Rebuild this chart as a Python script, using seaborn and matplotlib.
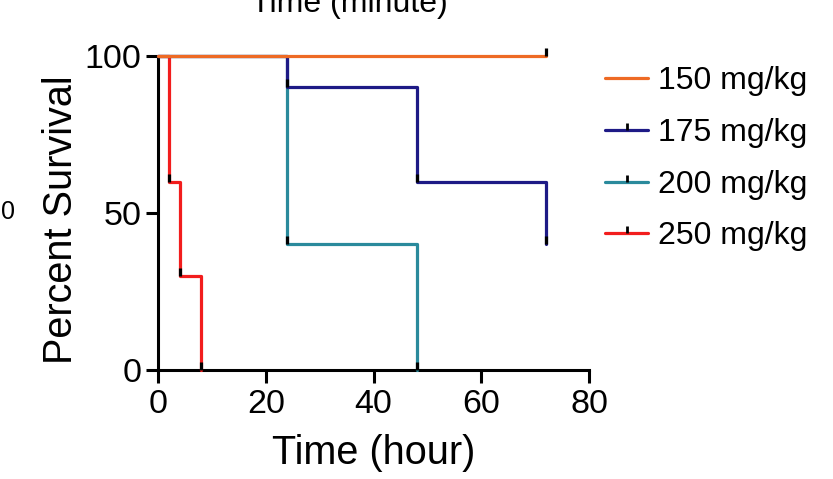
import matplotlib.pyplot as plt
from matplotlib.lines import Line2D
import pandas as pd
import seaborn as sns

# Survival data (Kaplan-Meier steps) per dose
doses = ['150 mg/kg', '175 mg/kg', '200 mg/kg', '250 mg/kg']
time_150 = [0, 72]
surv_150 = [100, 100]
time_175 = [0, 24, 48, 72]
surv_175 = [100, 90, 60, 40]
time_200 = [0, 24, 48]
surv_200 = [100, 40, 0]
time_250 = [0, 2, 4, 8]
surv_250 = [100, 60, 30, 0]

colors = ['#EE6A24', '#1E1A86', '#2A8A9C', '#F21D1D']

times = [time_150, time_175, time_200, time_250]
survs = [surv_150, surv_175, surv_200, surv_250]

rows = []
for dose, t, s in zip(doses, times, survs):
    for ti, si in zip(t, s):
        rows.append({'Time': ti, 'Survival': si, 'Dose': dose})
data = pd.DataFrame(rows)

sns.set_style("ticks")
plt.rcParams['font.family'] = ['Liberation Sans', 'DejaVu Sans']
plt.rcParams['text.color'] = 'black'
plt.rcParams['axes.labelcolor'] = 'black'
plt.rcParams['xtick.color'] = 'black'
plt.rcParams['ytick.color'] = 'black'

fig = plt.figure(figsize=(8.33, 4.79), dpi=100)
ax = fig.add_axes([0.1897, 0.2276, 0.5174, 0.6555])

# draw the highest dose first so the lower doses sit on top (as in Prism)
sns.lineplot(data=data, x='Time', y='Survival', hue='Dose',
             hue_order=doses[::-1], palette=dict(zip(doses, colors)),
             drawstyle='steps-post', estimator=None, sort=False, legend=False,
             linewidth=2.3, ax=ax, clip_on=False, zorder=3)

# small black tick marks at each step (upward stub)
stub = [(0, 0), (0, 1)]
for i, (t, s) in enumerate(zip(times, survs)):
    if i == 0:
        mt, ms = t[-1:], s[-1:]
    else:
        mt, ms = t[1:], s[1:]
    ax.plot(mt, ms, linestyle='none', marker=stub, markersize=12,
            markeredgewidth=2.3, color='black', clip_on=False, zorder=4)

ax.set_xlim(0, 80)
ax.set_ylim(0, 100)
ax.set_xticks([0, 20, 40, 60, 80])
ax.set_yticks([0, 50, 100])
ax.tick_params(axis='both', labelsize=24.5, width=2.2, length=9, direction='out',
               color='black', labelcolor='black')
ax.tick_params(axis='x', pad=5)
ax.tick_params(axis='y', pad=3)
for side in ['left', 'bottom']:
    ax.spines[side].set_linewidth(2.2)
    ax.spines[side].set_color('black')
sns.despine(ax=ax)

ax.set_xlabel('Time (hour)', fontsize=28.5, labelpad=10, color='black')
ax.set_ylabel('Percent Survival', fontsize=28.5, color='black')
ax.yaxis.set_label_coords(-0.181, 0.478)

# legend
handles = []
for i, (dose, c) in enumerate(zip(doses, colors)):
    h = Line2D([0], [0], color=c, linewidth=2.3,
               marker=None if i == 0 else stub, markersize=10,
               markeredgecolor='black', markeredgewidth=2)
    handles.append(h)
leg = ax.legend(handles, doses, loc='upper left', bbox_to_anchor=(1.008, 1.008),
                frameon=False, fontsize=23, handlelength=1.35, handletextpad=0.3,
                labelspacing=0.68, borderaxespad=0)
for txt in leg.get_texts():
    txt.set_color('black')

# clipped remnants of neighbouring panels
fig.text(0.42, 1 - 12 / 479, 'Time (minute)', fontsize=23, ha='center',
         va='baseline')
fig.text(0.010, 1 - 212 / 479, '0', fontsize=18, ha='center', va='center')

fig.savefig('out.png', dpi=100)
